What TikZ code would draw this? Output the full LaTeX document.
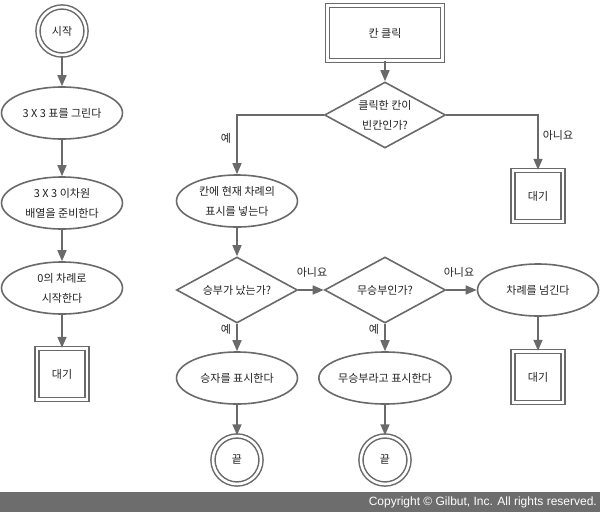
\documentclass[tikz,border=0pt]{standalone}
\usepackage{fontspec}
\setmainfont{Noto Sans CJK KR}
\newfontfamily\footfont{Liberation Sans}
\usetikzlibrary{shapes.geometric,arrows.meta}
\definecolor{lc}{HTML}{6A6A6A}
\definecolor{tc}{HTML}{222222}
\definecolor{barc}{HTML}{6D6D6D}
\tikzset{
  base/.style={draw=lc, line width=1.6pt, fill=white, inner sep=0pt, align=center,
    text=tc, font=\fontsize{11}{20}\selectfont},
  ell/.style={base, ellipse, minimum width=121pt, minimum height=52pt},
  dia/.style={base, diamond, aspect=1.8, minimum width=121pt, minimum height=66pt},
  dbl/.style={base, double=white, double distance=2.6pt, line width=1.5pt},
  term/.style={dbl, circle, minimum size=48pt},
  waitbox/.style={dbl, rectangle, minimum width=50pt, minimum height=51pt},
  clickbox/.style={dbl, rectangle, minimum width=115pt, minimum height=55pt},
  flow/.style={draw=lc, line width=1.6pt, -{Triangle[width=9pt,length=11pt]}},
  lab/.style={text=tc, font=\fontsize{11}{12}\selectfont, inner sep=0pt},
}
\begin{document}
\begin{tikzpicture}[x=1pt,y=-1pt]
\useasboundingbox (0,0) rectangle (600,512);

% left column: start-up sequence
\node[term]    (start) at (62,31)  {시작};
\node[ell]     (grid)  at (62,113) {3 X 3 표를 그린다};
\node[ell]     (arr)   at (62,203) {3 X 3 이차원\\배열을 준비한다};
\node[ell]     (first) at (62,288) {0의 차례로\\시작한다};
\node[waitbox] (wait1) at (62,374) {대기};

\draw[flow] (start) -- (grid);
\draw[flow] (grid) -- (arr);
\draw[flow] (arr) -- (first);
\draw[flow] (first) -- (wait1);

% click handler
\node[clickbox] (click) at (385,33)  {칸 클릭};
\node[dia]      (empty) at (385,115) {클릭한 칸이\\빈칸인가?};
\node[ell]      (mark)  at (237,201) {칸에 현재 차례의\\표시를 넣는다};
\node[waitbox]  (wait2) at (538,196) {대기};
\node[dia]      (win)   at (237,290) {승부가 났는가?};
\node[dia]      (tie)   at (385,290) {무승부인가?};
\node[ell]      (next)  at (538,290) {차례를 넘긴다};
\node[ell]      (showwin) at (237,378) {승자를 표시한다};
\node[ell]      (showtie) at (385,378) {무승부라고 표시한다};
\node[waitbox]  (wait3) at (538,377) {대기};
\node[term]     (end1)  at (237,460) {끝};
\node[term]     (end2)  at (385,460) {끝};

\draw[flow] (click) -- (empty);
\draw[flow] (empty.west) -| (mark.north);
\draw[flow] (empty.east) -| (wait2.north);
\draw[flow] (mark) -- (win);
\draw[flow] (win.east) -- (tie.west);
\draw[flow] (tie.east) -- (next.west);
\draw[flow] (win.south) -- (showwin.north);
\draw[flow] (tie.south) -- (showtie.north);
\draw[flow] (next) -- (wait3);
\draw[flow] (showwin) -- (end1);
\draw[flow] (showtie) -- (end2);

% branch labels
\node[lab] (y1) at (226,138) {예};
\node[lab] (n1) at (558,135) {아니요};
\node[lab] (n2) at (312,272) {아니요};
\node[lab] (n3) at (459,272) {아니요};
\node[lab] (y2) at (226,329) {예};
\node[lab] (y3) at (374,329) {예};

% copyright bar
\fill[barc] (0,492) rectangle (600,512);
\node[anchor=east, text=white, inner sep=0pt, font=\footfont\fontsize{12}{14}\selectfont]
  (copy) at (597,502.5) {Copyright © Gilbut, Inc. All rights reserved.};
\end{tikzpicture}
\end{document}
